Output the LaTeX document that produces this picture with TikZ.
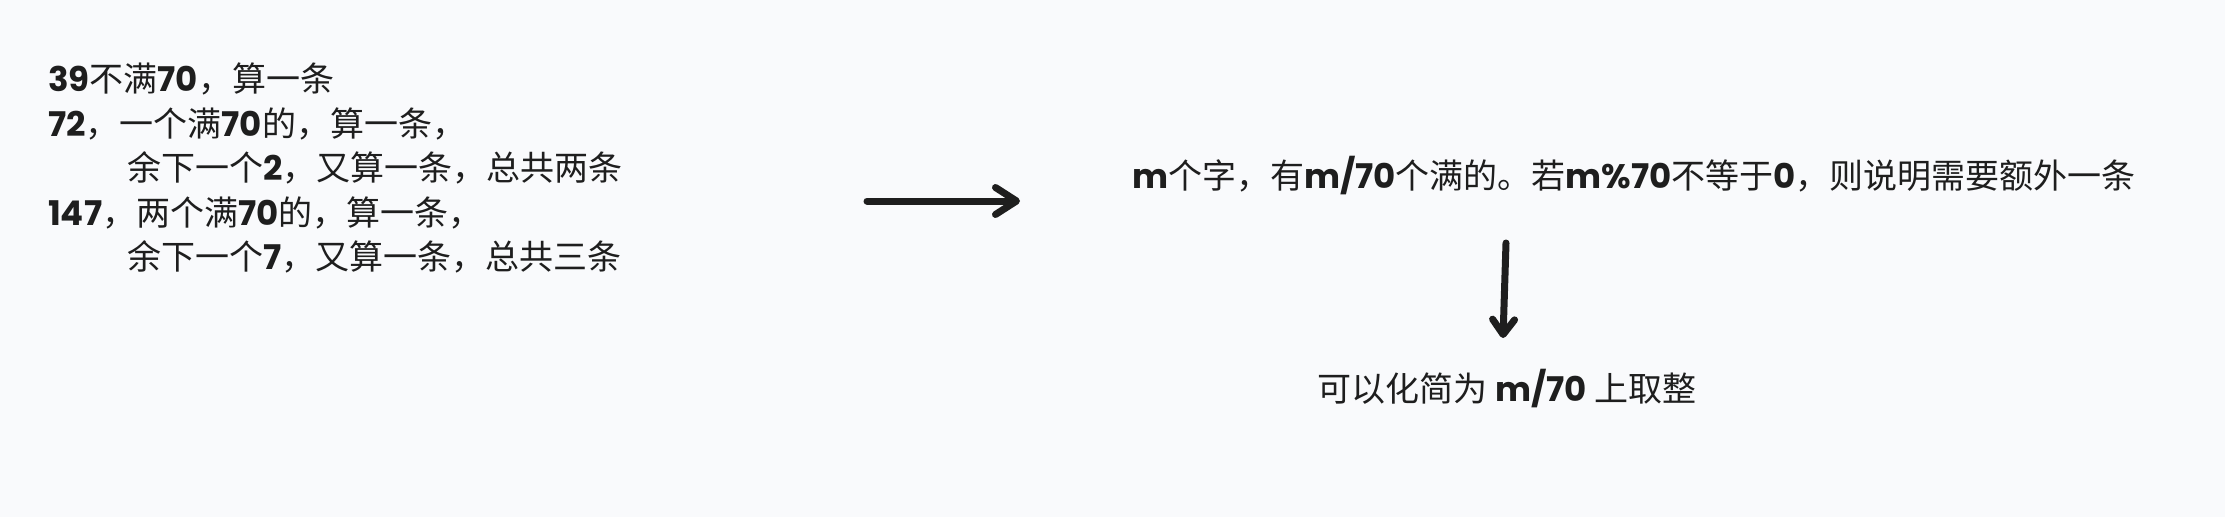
\documentclass[tikz,border=0pt]{standalone}
\usepackage{fontspec}
\setmainfont{Noto Sans CJK SC}
\newfontfamily\hand{Poppins}
\usetikzlibrary{arrows.meta,positioning}
\definecolor{ink}{HTML}{1E1E1E}
\definecolor{paper}{HTML}{F9FAFC}
\newcommand{\hd}[1]{{\hand\bfseries #1}}

\begin{document}
\begin{tikzpicture}
			[x=1pt, y=-1pt,
			 note/.style={inner sep=0pt, text=ink, font=\fontsize{34}{44.5}\selectfont},
			 flow/.style={draw=ink, line width=7pt, line cap=round,
			   -{Straight Barb[length=21pt, width=27pt, line cap=round, line join=round]}},]
          	\fill[paper] (0,0) rectangle (2225,517);
          	\useasboundingbox (0,0) rectangle (2225,517);

          	\node[note, align=left, anchor=north west] (cases) at (48,63)
          	  {\hd{39}不满\hd{70}，算一条\\
          	   \hd{72}，一个满\hd{70}的，算一条，\\
          	   \hspace*{79pt}余下一个\hd{2}，又算一条，总共两条\\
          	   \hd{147}，两个满\hd{70}的，算一条，\\
          	   \hspace*{79pt}余下一个\hd{7}，又算一条，总共三条};
          	\node[note, anchor=base] (rule) at (1634,188)
          	  {\hd{m}个字，有\hd{m/70}个满的。若\hd{m\%70}不等于\hd{0}，则说明需要额外一条};
          	\node[note, anchor=base] (ceil) at (1507,401) {可以化简为 \hd{m/70} 上取整};

          	\coordinate (go) at (867,201);
          	\coordinate (stop) at (1020,201);
          	\coordinate (drop) at (1506,243);
          	\coordinate (land) at (1503,338);

            \draw[flow] (go) -- (stop);
            \draw[flow, -{Straight Barb[length=15pt, width=22pt, line cap=round, line join=round]}] (drop) -- (land);
			\end{tikzpicture}
\end{document}
